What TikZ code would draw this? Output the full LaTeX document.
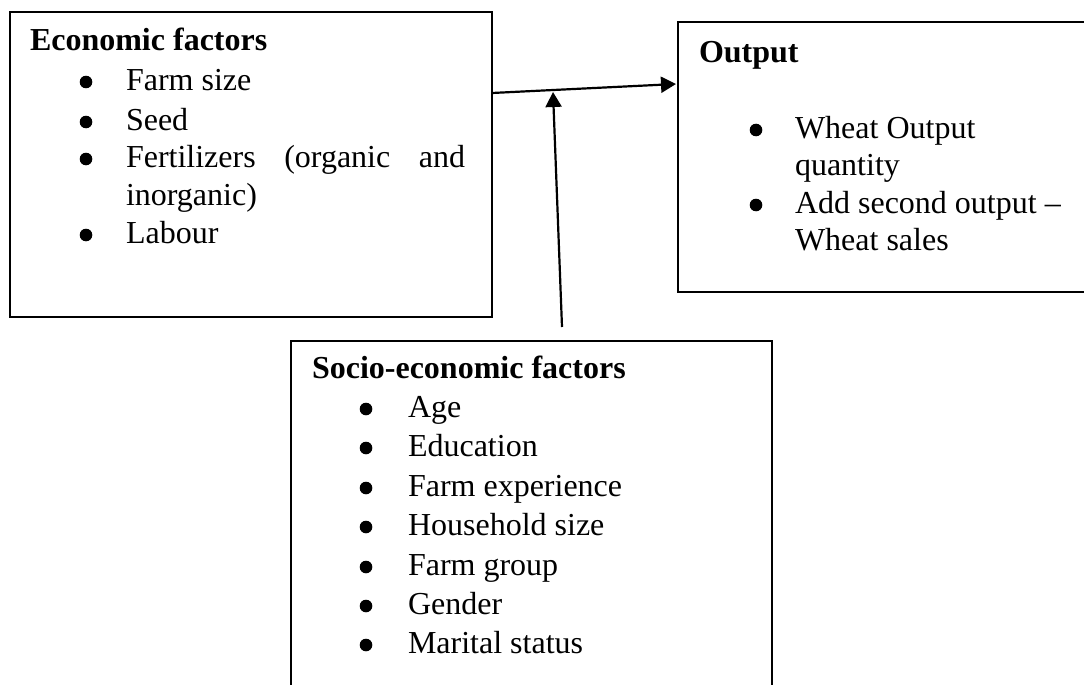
\documentclass[tikz,border=0pt]{standalone}
\usepackage{fontspec}
\setmainfont{Liberation Serif}
\usetikzlibrary{arrows.meta,calc}
\tikzset{
  box/.style={draw=black, line width=2pt, inner sep=0pt, outer sep=0pt, anchor=north west},
  txt/.style={anchor=base west, inner sep=0pt, outer sep=0pt, font=\fontsize{32}{38}\selectfont},
  head/.style={txt, font=\fontsize{32}{38}\selectfont\bfseries},
  conn/.style={line width=2.2pt, -{Triangle[length=15pt,width=16pt]}},
  bul/.style={fill=black}
}
\begin{document}
\begin{tikzpicture}[x=1pt,y=-1pt]
\clip (0,0) rectangle (1084,685);
\fill[white] (0,0) rectangle (1084,685);
% boxes
\node[box, minimum width=482pt, minimum height=305pt] (eco) at (10,12) {};
\node[box, minimum width=440pt, minimum height=270pt] (out) at (678,22) {};
\node[box, minimum width=481pt, minimum height=380pt] (soc) at (291,341) {};
% economic factors
\node[head] (ecoh) at (30,51) {Economic factors};
\node[txt] (e1) at (126,90) {Farm size};
\node[txt] (e2) at (126,130) {Seed};
\node[txt] (e3) at (126,167) {\makebox[339pt][s]{Fertilizers (organic and}};
\node[txt] (e3b) at (126,205) {inorganic)};
\node[txt] (e4) at (126,243) {Labour};
\foreach \y in {90,130,167,243} \fill[bul] (86,\y-8) circle (6.3pt);
% output
\node[head] (outh) at (699,63) {Output};
\node[txt] (o1) at (795,138) {Wheat Output};
\node[txt] (o1b) at (795,175.5) {quantity};
\node[txt] (o2) at (795,213) {Add second output –};
\node[txt] (o2b) at (795,250.5) {Wheat sales};
\foreach \y in {138,213} \fill[bul] (756,\y-8) circle (6.3pt);
% socio-economic factors
\node[head] (soch) at (312,378) {Socio-economic factors};
\node[txt] (s1) at (408,417) {Age};
\node[txt] (s2) at (408,456) {Education};
\node[txt] (s3) at (408,496) {Farm experience};
\node[txt] (s4) at (408,535) {Household size};
\node[txt] (s5) at (408,575) {Farm group};
\node[txt] (s6) at (408,614) {Gender};
\node[txt] (s7) at (408,653) {Marital status};
\foreach \y in {417,456,496,535,575,614,653} \fill[bul] (366,\y-8) circle (6.3pt);
% connectors
\coordinate (a1s) at ($(eco.north east)+(0,81)$);
\coordinate (a1e) at ($(out.north west)+(-2,62)$);
\draw[conn] (a1s) -- (a1e);
\coordinate (a2s) at (562,327);
\coordinate (a2e) at (553,92);
\draw[conn] (a2s) -- (a2e);
\end{tikzpicture}
\end{document}
